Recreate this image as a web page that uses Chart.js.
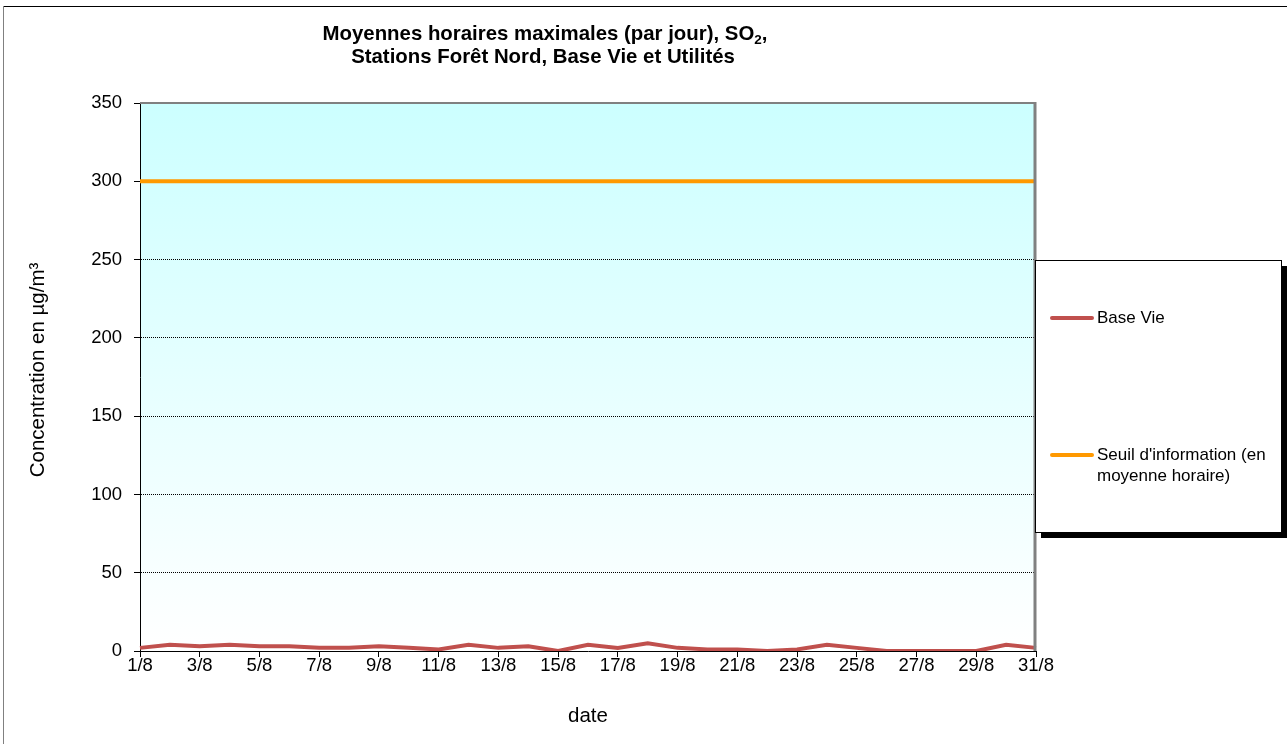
<!DOCTYPE html>
<html>
<head>
<meta charset="utf-8">
<script src="https://cdn.jsdelivr.net/npm/chart.js@4.4.1/dist/chart.umd.min.js"></script>
<style>
html,body{margin:0;padding:0;background:#fff;}
#wrap{width:1287px;height:744px;position:relative;}
</style>
</head>
<body>
<div id="wrap"><canvas id="c" width="1287" height="744"></canvas></div>
<script>
const categories = ["1/8","2/8","3/8","4/8","5/8","6/8","7/8","8/8","9/8","10/8","11/8","12/8","13/8","14/8","15/8","16/8","17/8","18/8","19/8","20/8","21/8","22/8","23/8","24/8","25/8","26/8","27/8","28/8","29/8","30/8","31/8"];
const baseVie = [2,4,3,4,3,3,2,2,3,2,1,4,2,3,0,4,2,5,2,1,1,0,1,4,2,0,0,0,0,4,2];
const seuilInformation = [300,300,300,300,300,300,300,300,300,300,300,300,300,300,300,300,300,300,300,300,300,300,300,300,300,300,300,300,300,300,300];
const seriesNames = ["Base Vie", "Seuil d'information (en\nmoyenne horaire)"];
const seriesColors = ["#C0504D", "#FF9900"];
const titleLines = ["Moyennes horaires maximales (par jour), SO", "Stations Forêt Nord, Base Vie et Utilités"];
const yTitle = "Concentration en µg/m³";
const xTitle = "date";

const FONT = "'Liberation Sans', Arial, sans-serif";

const decor = {
  id: 'decor',
  beforeDraw(chart) {
    const {ctx, chartArea: a} = chart;
    ctx.save();
    const g = ctx.createLinearGradient(0, a.top, 0, a.bottom);
    g.addColorStop(0, '#CCFFFF');
    g.addColorStop(1, '#FFFFFF');
    ctx.fillStyle = g;
    ctx.fillRect(a.left, a.top, a.right - a.left, a.bottom - a.top);
    ctx.strokeStyle = '#000';
    ctx.lineWidth = 1;
    ctx.beginPath(); ctx.moveTo(3, 6.5); ctx.lineTo(1287, 6.5); ctx.stroke();
    ctx.strokeStyle = '#808080';
    ctx.beginPath(); ctx.moveTo(3.5, 6); ctx.lineTo(3.5, 744); ctx.stroke();
    ctx.restore();
  },
  afterDraw(chart) {
    const {ctx, chartArea: a} = chart;
    ctx.save();
    ctx.strokeStyle = '#808080';
    ctx.lineWidth = 2;
    ctx.beginPath(); ctx.moveTo(a.left, a.top); ctx.lineTo(a.right - 1, a.top); ctx.stroke();
    ctx.lineWidth = 3;
    ctx.beginPath(); ctx.moveTo(a.right - 1, a.top - 1); ctx.lineTo(a.right - 1, a.bottom); ctx.stroke();

    // y axis title
    ctx.save();
    ctx.translate(38, 370);
    ctx.rotate(-Math.PI / 2);
    ctx.font = "20.5px " + FONT;
    ctx.fillStyle = '#000';
    ctx.textAlign = 'center';
    ctx.textBaseline = 'middle';
    ctx.fillText(yTitle, 0, 0);
    ctx.restore();

    // title
    ctx.fillStyle = '#000';
    ctx.textBaseline = 'alphabetic';
    const cx = 545;
    const TF = "bold 20.4px " + FONT, SF = "bold 13.5px " + FONT;
    ctx.font = TF;
    const l1 = titleLines[0];
    const w1 = ctx.measureText(l1).width;
    const wc = ctx.measureText(",").width;
    ctx.font = SF;
    const wsub = ctx.measureText("2").width;
    let x0 = cx - (w1 + wsub + wc) / 2;
    ctx.textAlign = 'left';
    ctx.font = TF;
    ctx.fillText(l1, x0, 40);
    ctx.font = SF;
    ctx.fillText("2", x0 + w1, 44);
    ctx.font = TF;
    ctx.fillText(",", x0 + w1 + wsub, 40);
    ctx.textAlign = 'center';
    ctx.fillText(titleLines[1], cx - 2, 63);

    // legend
    const lx = 1035, ly = 260, lw = 246, lh = 272;
    ctx.fillStyle = '#000';
    ctx.fillRect(lx + 6, ly + 6, lw, lh);
    ctx.fillStyle = '#fff';
    ctx.fillRect(lx, ly, lw, lh);
    ctx.strokeStyle = '#000';
    ctx.lineWidth = 1;
    ctx.strokeRect(lx + 0.5, ly + 0.5, lw, lh);
    const itemY = [318, 455];
    ctx.font = "17px " + FONT;
    ctx.textAlign = 'left';
    ctx.textBaseline = 'middle';
    seriesNames.forEach((name, i) => {
      ctx.strokeStyle = seriesColors[i];
      ctx.lineWidth = 4;
      ctx.lineCap = 'round';
      ctx.beginPath(); ctx.moveTo(1052, itemY[i]); ctx.lineTo(1092, itemY[i]); ctx.stroke();
      ctx.fillStyle = '#000';
      name.split('\n').forEach((t, j) => ctx.fillText(t, 1097, itemY[i] + j * 21));
    });
    ctx.restore();
  }
};

new Chart(document.getElementById('c'), {
  type: 'line',
  data: {
    labels: categories,
    datasets: [
      {label: seriesNames[0], data: baseVie, borderColor: seriesColors[0], borderWidth: 4, pointRadius: 0, tension: 0, fill: false},
      {label: seriesNames[1], data: seuilInformation, borderColor: seriesColors[1], borderWidth: 4, pointRadius: 0, tension: 0, fill: false}
    ]
  },
  options: {
    responsive: false,
    animation: false,
    devicePixelRatio: 1,
    layout: {padding: {top: 103, right: 251, left: 0, bottom: 0}},
    plugins: {legend: {display: false}, title: {display: false}, tooltip: {enabled: false}},
    scales: {
      x: {
        type: 'category',
        offset: false,
        afterFit(s) { s.height = 93; },
        border: {display: true, color: '#000', width: 1},
        grid: {display: true, drawOnChartArea: false, tickLength: 6, tickColor: '#000', tickWidth: 1},
        ticks: {
          autoSkip: false, maxRotation: 0, minRotation: 0, padding: 0, color: '#000',
          font: {family: FONT, size: 18.5, lineHeight: 1},
          callback(v, i) { return i % 2 === 0 ? categories[i] : null; }
        },
        title: {display: true, text: xTitle, color: '#000', font: {family: FONT, size: 20.5}, padding: {top: 0, bottom: 15}}
      },
      y: {
        min: 0, max: 350,
        afterFit(s) { s.width = 140; },
        grid: {
          display: true, drawOnChartArea: true, tickLength: 6, tickColor: '#000', tickWidth: 1, tickBorderDash: [],
          color(c) { return (c.tick && (c.tick.value === 0 || c.tick.value === 350)) ? 'rgba(0,0,0,0)' : '#000'; },
          lineWidth: 1
        },
        border: {display: true, color: '#000', width: 1, dash: [1, 1]},
        ticks: {stepSize: 50, padding: 12, color: '#000', font: {family: FONT, size: 18.5}},
        title: {display: false}
      }
    }
  },
  plugins: [decor]
});
</script>
</body>
</html>
